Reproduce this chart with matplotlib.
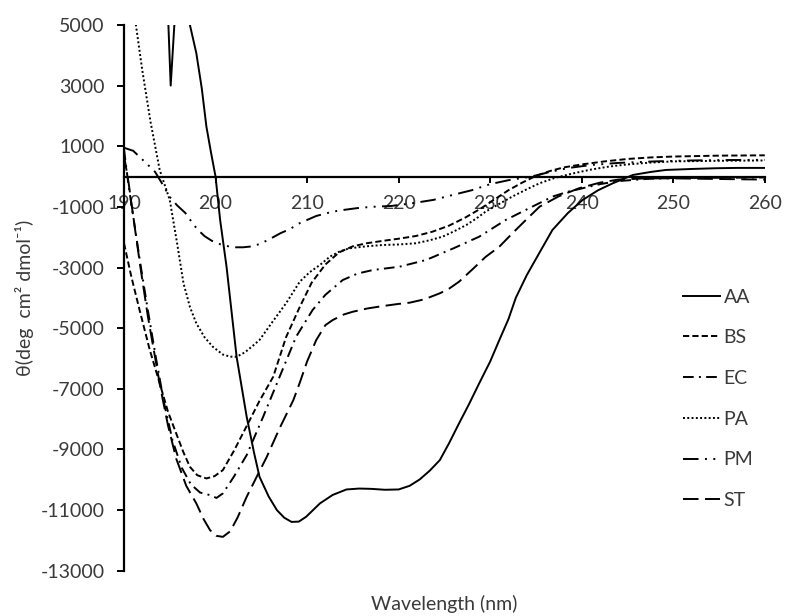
import matplotlib
matplotlib.use("Agg")
import matplotlib.pyplot as plt

plt.rcParams['font.family'] = ['Lato', 'DejaVu Sans']
plt.rcParams['axes.unicode_minus'] = False

# CD spectra (wavelength in nm, theta in deg cm2 dmol-1)
aa_wl = [194.7, 194.85, 195.1, 195.5, 195.8, 196.9, 197.2, 197.9, 198.5, 199.0, 199.5, 200.0,
         200.5, 201.2, 202.3, 203.4, 204.2, 204.8, 205.8, 206.7, 207.5, 208.3, 209.1, 209.9,
         211.4, 212.8, 214.3, 215.7, 217.0, 218.5, 220.0, 221.2, 222.3, 223.4, 224.5, 225.5,
         226.6, 227.7, 228.8, 230.0, 231.0, 232.0, 232.8, 234.0, 235.5, 236.8, 238.5, 240.1,
         241.8, 243.4, 245.6, 247.5, 249.2, 252.0, 254.6, 257.0, 260.0]
aa_val = [6000, 5000, 3000, 5000, 6000, 6000, 5000, 4070, 2900, 1650, 800, 0,
          -1430, -2970, -5943, -7920, -9100, -9900, -10550, -11000, -11250, -11390, -11380, -11220,
          -10780, -10500, -10320, -10290, -10300, -10330, -10320, -10200, -9990, -9700, -9352, -8800,
          -8140, -7500, -6820, -6100, -5392, -4700, -4000, -3250, -2450, -1762, -1200, -772,
          -450, -221, 53, 150, 218, 250, 274, 285, 285]

bs_wl = [190.0, 190.8, 191.7, 192.8, 193.9, 194.8, 195.7, 196.5, 197.2, 198.0, 199.0, 199.9,
         200.8, 202.0, 203.4, 204.8, 206.3, 207.7, 209.2, 210.5, 212.0, 213.5, 215.0, 216.5,
         218.3, 220.0, 221.9, 223.7, 225.5, 227.3, 229.0, 230.5, 232.0, 233.5, 235.0, 236.5,
         238.0, 240.0, 242.5, 245.0, 247.5, 250.0, 255.0, 260.0]
bs_val = [-2200, -3300, -4400, -5700, -6820, -7750, -8470, -9100, -9573, -9850, -9957, -9880,
          -9682, -9050, -8230, -7400, -6603, -5300, -4300, -3500, -2900, -2500, -2300, -2200,
          -2120, -2050, -1960, -1818, -1620, -1350, -1050, -750, -450, -200, 20, 180,
          300, 400, 500, 580, 630, 660, 690, 700]

ec_wl = [190.0, 190.5, 191.0, 191.8, 192.6, 193.5, 194.4, 195.3, 196.3, 197.3, 198.3, 199.4,
         200.1, 200.8, 202.0, 203.4, 205.2, 207.0, 208.8, 210.6, 212.0, 213.9, 215.5, 217.2,
         220.1, 223.0, 226.0, 228.8, 231.7, 234.6, 236.8, 238.5, 240.1, 242.0, 244.0, 247.0,
         250.0, 255.0, 260.0]
ec_val = [900, -300, -1300, -2900, -4400, -6000, -7500, -8700, -9600, -10150, -10420, -10507,
          -10600, -10451, -9900, -9187, -7923, -6603, -5283, -4402, -3900, -3412, -3200, -3082,
          -2973, -2752, -2366, -1983, -1432, -993, -663, -500, -386, -250, -150, -80,
          -50, -40, -30]

pa_wl = [190.6, 191.3, 192.0, 192.9, 193.9, 195.0, 195.8, 196.5, 197.2, 197.9, 198.8, 199.7,
         200.8, 201.6, 202.3, 203.2, 204.0, 204.8, 206.2, 207.7, 209.2, 210.3, 211.4, 212.5,
         213.5, 214.6, 216.5, 218.3, 220.0, 221.9, 223.4, 224.8, 226.1, 227.4, 228.5, 229.5,
         231.0, 232.4, 234.0, 235.4, 237.0, 239.0, 241.0, 243.0, 245.0, 247.5, 250.0, 255.0,
         260.0]
pa_val = [6500, 5000, 3500, 1800, 218, -772, -2200, -3520, -4300, -4841, -5300, -5613,
          -5870, -5940, -5943, -5800, -5600, -5392, -4800, -4181, -3468, -3150, -2917, -2640,
          -2480, -2367, -2300, -2257, -2240, -2200, -2100, -1983, -1800, -1597, -1380, -1158,
          -900, -663, -420, -221, -50, 100, 230, 330, 400, 460, 500, 520,
          530]

pm_wl = [190.0, 191.0, 191.7, 192.5, 193.4, 194.2, 195.0, 195.8, 196.7, 197.4, 198.0, 198.8,
         199.6, 200.5, 201.8, 203.0, 204.1, 205.0, 205.9, 207.1, 208.1, 209.2, 211.0, 212.8,
         214.0, 215.5, 217.0, 219.2, 221.5, 223.8, 226.0, 228.0, 230.0, 232.0, 234.5, 236.5,
         238.5, 241.0, 244.0, 248.0, 252.0, 256.0, 260.0]
pm_val = [950, 850, 650, 420, 152, -250, -673, -950, -1201, -1500, -1735, -1966,
          -2120, -2231, -2333, -2333, -2300, -2200, -2066, -1867, -1735, -1537, -1300, -1158,
          -1100, -1040, -1000, -970, -880, -770, -600, -450, -250, -120, 0, 150,
          280, 380, 450, 500, 530, 545, 550]

st_wl = [190.0, 190.5, 191.0, 191.8, 192.6, 193.3, 194.0, 194.8, 195.7, 196.8, 197.9, 198.7,
         199.4, 200.1, 200.8, 201.6, 202.4, 203.4, 204.5, 205.6, 207.0, 208.5, 209.2, 210.0,
         211.0, 212.0, 212.8, 214.0, 215.0, 216.6, 218.3, 220.0, 221.2, 222.8, 224.5, 225.5,
         226.6, 228.1, 229.5, 231.0, 232.5, 233.9, 235.4, 237.5, 239.7, 242.0, 244.0, 247.0,
         250.0, 255.0, 260.0]
st_val = [700, -200, -1300, -3000, -4600, -5800, -7000, -8200, -9300, -10200, -10780, -11300,
          -11662, -11850, -11883, -11700, -11250, -10562, -9900, -9243, -8300, -7372, -6800, -6100,
          -5392, -4900, -4732, -4550, -4458, -4350, -4270, -4200, -4160, -4050, -3850, -3700,
          -3468, -3050, -2650, -2313, -1850, -1432, -993, -650, -386, -200, -100, -60,
          -60, -80, -100]

labels = ["AA", "BS", "EC", "PA", "PM", "ST"]
x_ticks = [190, 200, 210, 220, 230, 240, 250, 260]
y_ticks = [5000, 3000, 1000, -1000, -3000, -5000, -7000, -9000, -11000, -13000]

fig = plt.figure(figsize=(8, 6.16), dpi=100)
ax = fig.add_axes([0.155, 0.0735, 0.801, 0.886])

lw = 1.4
ax.plot(aa_wl, aa_val, color="black", lw=lw, linestyle="-", label=labels[0])
ax.plot(bs_wl, bs_val, color="black", lw=lw, linestyle=(0, (3.2, 1.6)), label=labels[1])
ax.plot(ec_wl, ec_val, color="black", lw=lw, linestyle=(0, (5.5, 2.7, 1, 2.7)), label=labels[2])
ax.plot(pa_wl, pa_val, color="black", lw=lw, linestyle=(0, (1, 1.2)), label=labels[3])
ax.plot(pm_wl, pm_val, color="black", lw=lw, linestyle=(0, (8, 3.3, 1, 3.3, 1, 3.3)), label=labels[4])
ax.plot(st_wl, st_val, color="black", lw=lw, linestyle=(0, (8, 3.3)), label=labels[5])

ax.set_xlim(190, 260)
ax.set_ylim(-13000, 5000)
ax.set_xticks(x_ticks)
ax.set_yticks(y_ticks)

ax.spines["top"].set_visible(False)
ax.spines["right"].set_visible(False)
ax.spines["bottom"].set_position(("data", 0))
ax.spines["bottom"].set_linewidth(1.6)
ax.spines["left"].set_linewidth(1.6)
ax.tick_params(axis="x", direction="out", length=4, width=1.4, pad=9, labelsize=14)
ax.tick_params(axis="y", direction="out", length=5, width=1.4, pad=9, labelsize=14)
ax.tick_params(colors="black", labelcolor="#3a3a3a")

ax.set_xlabel("Wavelength (nm)", fontsize=14, color="#3a3a3a")
ax.xaxis.set_label_coords(0.5, -0.045)
ax.set_ylabel("θ(deg  cm² dmol⁻¹)", fontsize=14, color="#3a3a3a")
ax.yaxis.set_label_coords(-0.14, 0.5)

ax.legend(loc="upper left", bbox_to_anchor=(0.872, 0.517), frameon=False,
          fontsize=14, handlelength=1.9, handletextpad=0.2, labelspacing=1.22,
          borderaxespad=0, borderpad=0, labelcolor="#3a3a3a")

fig.savefig("out.png", dpi=100)
